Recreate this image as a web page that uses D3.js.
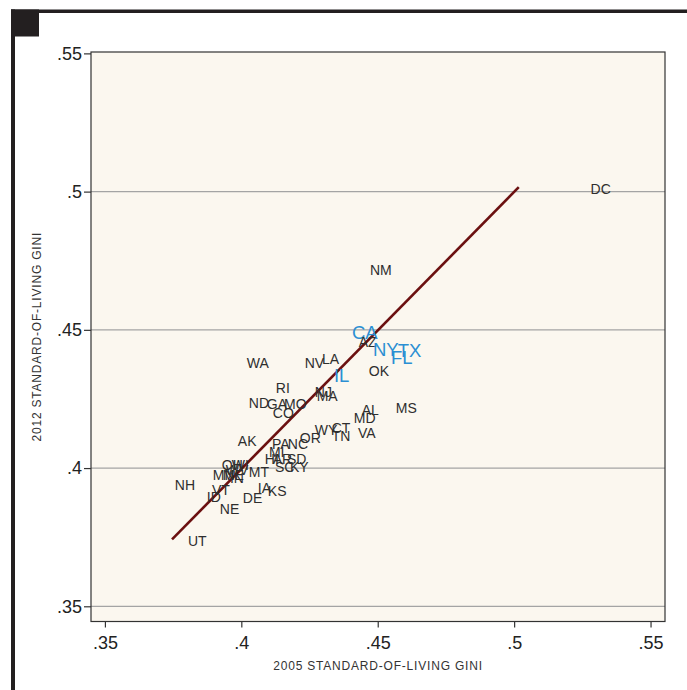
<!DOCTYPE html>
<html>
<head>
<meta charset="utf-8">
<script src="https://cdn.jsdelivr.net/npm/d3@7"></script>
<style>
  html, body { margin: 0; padding: 0; background: #ffffff; }
  svg { display: block; }
  text { font-family: "Liberation Sans", Arial, Helvetica, sans-serif; }
</style>
</head>
<body>
<svg id="chart" width="687" height="690"></svg>
<script>
// State standard-of-living Gini coefficients, 2005 vs 2012
const states = ["DC","NM","CA","AZ","NY","FL","TX","OK","IL","NV","LA","WA","RI","NJ","MA",
  "ND","GA","MO","CO","AL","MS","MD","VA","WY","CT","TN","OR","AK","PA","NC","MI","HI","AR",
  "SD","SC","KY","MT","OH","WI","WV","MN","ME","IN","VT","ID","NE","DE","IA","KS","NH","UT"];
const gini2005 = [0.5273,0.4464,0.4398,0.4423,0.4475,0.4541,0.4566,0.4460,0.4332,0.4225,0.4288,0.4013,0.4119,0.4262,0.4269,
  0.4020,0.4086,0.4149,0.4108,0.4434,0.4559,0.4405,0.4420,0.4262,0.4324,0.4324,0.4207,0.3980,0.4105,0.4163,0.4094,0.4079,0.4108,
  0.4160,0.4116,0.4171,0.4020,0.3921,0.3958,0.3936,0.3888,0.3925,0.3951,0.3885,0.3866,0.3914,0.3998,0.4053,0.4090,0.3749,0.3797];
const gini2012 = [0.5009,0.4717,0.4489,0.4457,0.4428,0.4399,0.4424,0.4352,0.4334,0.4381,0.4395,0.4381,0.4291,0.4276,0.4262,
  0.4236,0.4233,0.4233,0.4200,0.4208,0.4218,0.4182,0.4125,0.4139,0.4143,0.4114,0.4110,0.4096,0.4085,0.4085,0.4056,0.4031,0.4031,
  0.4034,0.4002,0.4002,0.3984,0.4009,0.4009,0.3991,0.3973,0.3973,0.3962,0.3922,0.3894,0.3850,0.3890,0.3926,0.3915,0.3940,0.3735];
// Most populous states are highlighted
const highlighted = ["CA","NY","FL","TX","IL"];

// Reference line
const lineX = [0.3746, 0.5017];
const lineY = [0.3742, 0.5016];

const xTicks = [0.35, 0.40, 0.45, 0.50, 0.55];
const yTicks = [0.35, 0.40, 0.45, 0.50, 0.55];
const tickLabels = [".35", ".4", ".45", ".5", ".55"];

const svg = d3.select("#chart");

// Page frame
svg.append("rect").attr("x", 11).attr("y", 9.5).attr("width", 676).attr("height", 3.5).attr("fill", "#231f20");
svg.append("rect").attr("x", 11).attr("y", 9.5).attr("width", 4).attr("height", 681).attr("fill", "#231f20");
svg.append("rect").attr("x", 11).attr("y", 9.5).attr("width", 28).attr("height", 27).attr("fill", "#231f20");

const plot = { left: 91, right: 665, top: 52, bottom: 621.5 };

const x = d3.scaleLinear().domain([0.3449, 0.5553]).range([plot.left, plot.right]);
const y = d3.scaleLinear().domain([0.3445, 0.5505]).range([plot.bottom, plot.top]);

// Plot background
svg.append("rect")
  .attr("x", plot.left).attr("y", plot.top)
  .attr("width", plot.right - plot.left).attr("height", plot.bottom - plot.top)
  .attr("fill", "#fbf7ef");

// Horizontal gridlines
svg.append("g").selectAll("line")
  .data(yTicks.filter(t => t < 0.55))
  .join("line")
  .attr("x1", plot.left).attr("x2", plot.right)
  .attr("y1", d => y(d)).attr("y2", d => y(d))
  .attr("stroke", "#a4a4a4").attr("stroke-width", 1.2);

// Axes
const fmt = d => tickLabels[xTicks.indexOf(d)];
const xAxis = d3.axisBottom(x).tickValues(xTicks).tickFormat(fmt).tickSize(6).tickPadding(9);
const yAxis = d3.axisLeft(y).tickValues(yTicks).tickFormat(d => tickLabels[yTicks.indexOf(d)]).tickSize(7).tickPadding(2);

const gx = svg.append("g").attr("transform", `translate(0,${plot.bottom})`).call(xAxis);
const gy = svg.append("g").attr("transform", `translate(${plot.left},0)`).call(yAxis);
[gx, gy].forEach(g => {
  g.select(".domain").remove();
  g.selectAll(".tick line").attr("stroke", "#333").attr("stroke-width", 1.2);
  g.selectAll(".tick text").attr("fill", "#222").style("font-size", "18px")
    .style("font-family", "'Liberation Sans', Arial, sans-serif");
});

// Plot border
svg.append("rect")
  .attr("x", plot.left).attr("y", plot.top)
  .attr("width", plot.right - plot.left).attr("height", plot.bottom - plot.top)
  .attr("fill", "none").attr("stroke", "#333").attr("stroke-width", 1.2);

// Reference line
svg.append("line")
  .attr("x1", x(lineX[0])).attr("y1", y(lineY[0]))
  .attr("x2", x(lineX[1])).attr("y2", y(lineY[1]))
  .attr("stroke", "#6b1010").attr("stroke-width", 2.6);

// State labels
const data = states.map((s, i) => ({ s, gx: gini2005[i], gy: gini2012[i], hi: highlighted.includes(s) }));
svg.append("g").selectAll("text")
  .data(data)
  .join("text")
  .attr("x", d => x(d.gx) + 2)
  .attr("y", d => y(d.gy))
  .attr("dy", "0.35em")
  .attr("text-anchor", "start")
  .attr("fill", d => d.hi ? "#2b8fd3" : "#2e2e2e")
  .style("font-size", d => d.hi ? "18.5px" : "14px")
  .text(d => d.s);

// Axis titles
svg.append("text")
  .attr("x", (plot.left + plot.right) / 2).attr("y", 670)
  .attr("text-anchor", "middle").attr("fill", "#333")
  .style("font-size", "12px").style("letter-spacing", "0.8px")
  .text("2005 STANDARD-OF-LIVING GINI");

svg.append("text")
  .attr("transform", `translate(41,${(plot.top + plot.bottom) / 2}) rotate(-90)`)
  .attr("text-anchor", "middle").attr("fill", "#333")
  .style("font-size", "12px").style("letter-spacing", "0.8px")
  .text("2012 STANDARD-OF-LIVING GINI");
</script>
</body>
</html>
